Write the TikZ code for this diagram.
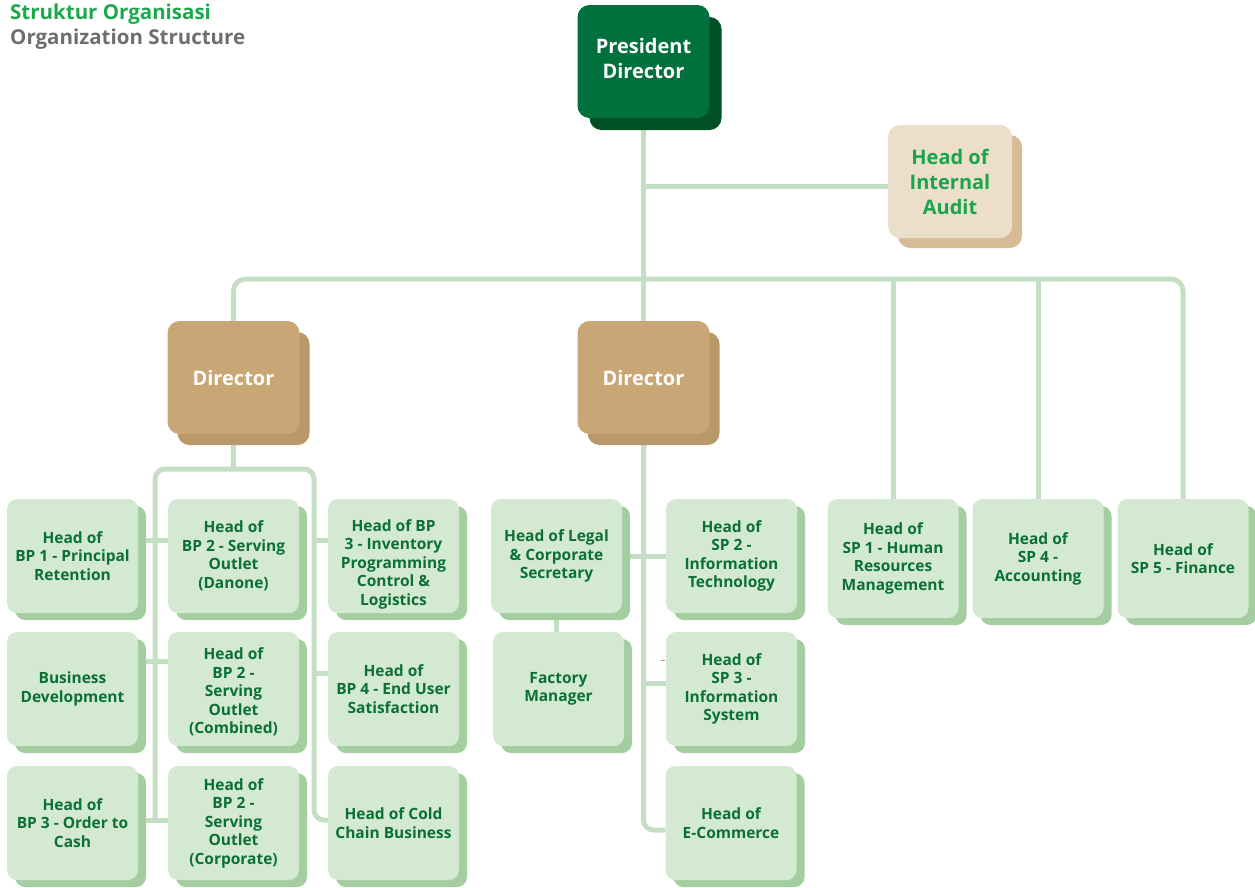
\documentclass[tikz,border=0pt]{standalone}
\usepackage{fontspec}
\setmainfont{Open Sans}
\usetikzlibrary{shadows,backgrounds}
\definecolor{presF}{RGB}{0,112,60}
\definecolor{presS}{RGB}{0,80,35}
\definecolor{audF}{RGB}{235,223,204}
\definecolor{audS}{RGB}{214,187,150}
\definecolor{audT}{RGB}{25,165,75}
\definecolor{dirF}{RGB}{200,166,118}
\definecolor{dirS}{RGB}{185,152,106}
\definecolor{smF}{RGB}{211,233,209}
\definecolor{smS}{RGB}{164,205,160}
\definecolor{smT}{RGB}{10,112,52}
\definecolor{lineg}{RGB}{196,223,196}
\definecolor{titG}{RGB}{28,168,76}
\definecolor{titK}{RGB}{109,110,113}
\definecolor{tick}{RGB}{190,150,110}
\tikzset{
  presbox/.style={rectangle, rounded corners=12pt, fill=presF, text=white,
    minimum width=132pt, minimum height=113pt, inner sep=2pt, align=center,
    font=\fontsize{20}{25}\selectfont\bfseries,
    drop shadow={shadow xshift=12pt, shadow yshift=-12pt, fill=presS, opacity=1}},
  audbox/.style={rectangle, rounded corners=12pt, fill=audF, text=audT,
    minimum width=124pt, minimum height=113pt, inner sep=2pt, align=center,
    font=\fontsize{20}{25}\selectfont\bfseries,
    drop shadow={shadow xshift=10pt, shadow yshift=-10pt, fill=audS, opacity=1}},
  dirbox/.style={rectangle, rounded corners=12pt, fill=dirF, text=white,
    minimum width=132pt, minimum height=113pt, inner sep=2pt, align=center,
    font=\fontsize{20}{25}\selectfont\bfseries,
    drop shadow={shadow xshift=10pt, shadow yshift=-11pt, fill=dirS, opacity=1}},
  smbox/.style={rectangle, rounded corners=10pt, fill=smF, text=smT,
    minimum width=131pt, minimum height=114pt, inner sep=2pt, align=center,
    font=\fontsize{15.5}{18.5}\selectfont\bfseries,
    drop shadow={shadow xshift=8pt, shadow yshift=-7pt, fill=smS, opacity=1}},
  conn/.style={draw=lineg, line width=5pt},
}
\begin{document}
\begin{tikzpicture}[x=1pt,y=-1pt]
\useasboundingbox (0,0) rectangle (1255,887);

% titles
\node[anchor=base west, inner sep=0pt, text=titG, font=\fontsize{20.5}{24}\selectfont\bfseries] (t1) at (10,19) {Struktur Organisasi};
\node[anchor=base west, inner sep=0pt, text=titK, font=\fontsize{20.5}{24}\selectfont\bfseries] (t2) at (10,44) {Organization Structure};

% top boxes
\node[presbox] (pres) at (643.5,61.5) {President\\Director\rule[-6pt]{0pt}{6pt}};
\node[audbox] (audit) at (950,181.5) {Head of\\Internal\\Audit};
\node[dirbox] (dirL) at (233.5,377.5) {Director};
\node[dirbox] (dirR) at (643.5,377.5) {Director};

% left group
\node[smbox] (bp1) at (72.5,556) {Head of\\BP 1 - Principal\\Retention};
\node[smbox] (bp2d) at (233.5,556) {Head of\\BP 2 - Serving\\Outlet\\(Danone)};
\node[smbox] (bp3) at (393.5,556) {\rule{0pt}{28pt}Head of BP\\3 - Inventory\\Programming\\Control \&\\Logistics};
\node[smbox] (bd) at (72.5,689) {Business\\Development};
\node[smbox] (bp2c) at (233.5,689) {\rule{0pt}{18pt}Head of\\BP 2 -\\Serving\\Outlet\\(Combined)};
\node[smbox] (bp4) at (393.5,689) {Head of\\BP 4 - End User\\Satisfaction};
\node[smbox] (bp3oc) at (72.5,823) {Head of\\BP 3 - Order to\\Cash};
\node[smbox] (bp2corp) at (233.5,823) {Head of\\BP 2 -\\Serving\\Outlet\\(Corporate)};
\node[smbox] (cold) at (393.5,823) {Head of Cold\\Chain Business};

% middle group
\node[smbox] (legal) at (556.5,556) {Head of Legal\\\& Corporate\\Secretary};
\node[smbox] (factory) at (558.5,689) {Factory\\Manager};
\node[smbox] (sp2) at (731.5,556) {Head of\\SP 2 -\\Information\\Technology};
\node[smbox] (sp3) at (731.5,689) {Head of\\SP 3 -\\Information\\System};
\node[smbox] (ecom) at (731,823) {Head of\\E-Commerce};

% right group
\node[smbox, minimum height=119pt] (sp1) at (893,558.5) {Head of\\SP 1 - Human\\Resources\\Management};
\node[smbox, minimum height=119pt] (sp4) at (1038,558.5) {Head of\\SP 4 -\\Accounting};
\node[smbox, minimum height=119pt] (sp5) at (1183,558.5) {Head of\\SP 5 - Finance};

% helper coordinates
\coordinate (ja) at (643.5,186);
\coordinate (bus) at (643.5,279);
\coordinate (lv) at (155,469);
\coordinate (rv) at (314,469);
\coordinate (r1) at (0,540);
\coordinate (r2a) at (0,661);
\coordinate (r2b) at (0,673);
\coordinate (r3) at (0,820);
\coordinate (r3e) at (0,830);
\coordinate (rs3) at (0,683);
\coordinate (tk1) at (661,660);
\coordinate (tk2) at (665,660);

\begin{pgfonlayer}{background}
% president
\draw[conn] (pres.south) -- (dirR.north);
\draw[conn] (ja) -- (ja -| audit.west);
% bus
\draw[conn, rounded corners=12pt] (dirL.north) -- (dirL.north |- bus) -- (sp5.north |- bus) -- (sp5.north);
\draw[conn] (sp1.north |- bus) -- (sp1.north);
\draw[conn] (sp4.north |- bus) -- (sp4.north);
% left director
\draw[conn] (dirL.south) -- (dirL.south |- lv);
\draw[conn, rounded corners=10pt] (lv |- r3) -- (lv) -- (rv) -- (rv |- r3) -- (cold.west |- r3);
\draw[conn] (bp1.east |- r1) -- (bp2d.west |- r1);
\draw[conn] (bd.east |- r2a) -- (bp2c.west |- r2a);
\draw[conn] (bp3oc.east |- r3) -- (bp2corp.west |- r3);
\draw[conn] (rv |- r1) -- (bp3.west |- r1);
\draw[conn] (rv |- r2b) -- (bp4.west |- r2b);
% right director
\draw[conn, rounded corners=10pt] (dirR.south) -- (dirR.south |- r3e) -- (ecom.west |- r3e);
\draw[conn] (legal.east) -- (sp2.west);
\draw[conn] (dirR.south |- rs3) -- (sp3.west |- rs3);
\draw[conn] (legal.south) -- (legal.south |- factory.north);
\end{pgfonlayer}
\draw[draw=tick, line width=0.8pt] (tk1) -- (tk2);
\end{tikzpicture}
\end{document}
